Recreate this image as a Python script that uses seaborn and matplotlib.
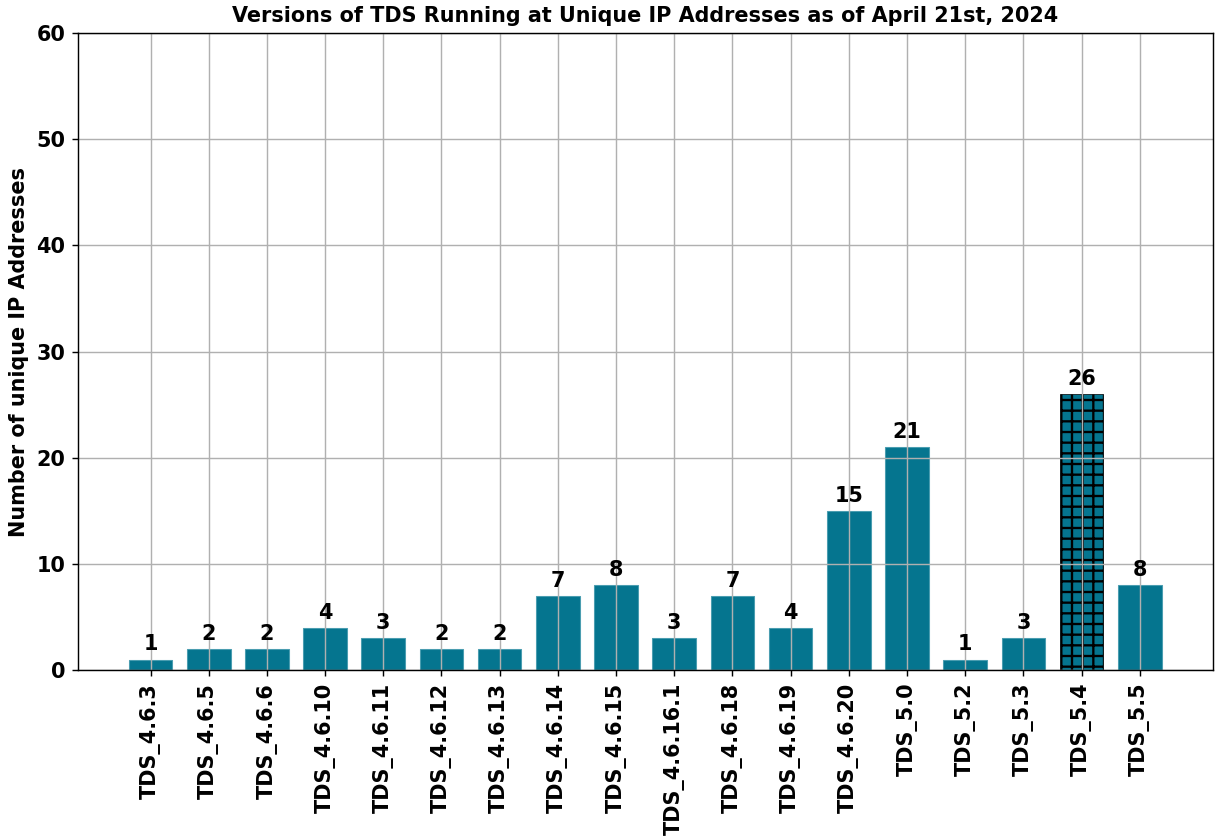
import matplotlib
matplotlib.use("Agg")
import matplotlib.pyplot as plt
import seaborn as sns

# Veriler
versions = ["TDS_4.6.3", "TDS_4.6.5", "TDS_4.6.6", "TDS_4.6.10", "TDS_4.6.11",
            "TDS_4.6.12", "TDS_4.6.13", "TDS_4.6.14", "TDS_4.6.15", "TDS_4.6.16.1",
            "TDS_4.6.18", "TDS_4.6.19", "TDS_4.6.20", "TDS_5.0", "TDS_5.2",
            "TDS_5.3", "TDS_5.4", "TDS_5.5"]
counts = [1, 2, 2, 4, 3, 2, 2, 7, 8, 3, 7, 4, 15, 21, 1, 3, 26, 8]
highlight = "TDS_5.4"

bar_color = "#05758f"

# dpi 128 -> 1215x840 piksel, tarama araligi referansa yakin
DPI = 128
fs = 11.7

plt.rcParams["hatch.linewidth"] = 1.3

fig = plt.figure(figsize=(1215 / DPI, 840 / DPI), dpi=DPI)
ax = fig.add_axes([0.064, 0.202, 0.934, 0.759])

sns.barplot(x=versions, y=counts, color=bar_color, saturation=1, width=0.75,
            edgecolor="#4a9db0", linewidth=0.6, ax=ax)

# En yuksek surumu tarali goster
for patch, name in zip(ax.patches, versions):
    if name == highlight:
        patch.set_hatch("++")
        patch.set_edgecolor("black")
        patch.set_linewidth(0.4)

for i, v in enumerate(counts):
    ax.text(i, v + 0.5, str(v), ha="center", va="bottom",
            fontsize=fs, fontweight="bold")

ax.set_xlim(-1.25, 18.25)
ax.set_ylim(0, 60)
ax.set_axisbelow(False)
ax.grid(True, color="#b0b0b0", linewidth=0.8)
for sp in ax.spines.values():
    sp.set_zorder(3)
ax.set_title("Versions of TDS Running at Unique IP Addresses as of April 21st, 2024",
             fontsize=fs, fontweight="bold")
ax.set_ylabel("Number of unique IP Addresses", fontsize=fs, fontweight="bold")
ax.tick_params(axis="x", labelrotation=90, labelsize=fs)
ax.tick_params(axis="y", labelsize=fs)
for lbl in ax.get_xticklabels() + ax.get_yticklabels():
    lbl.set_fontweight("bold")

fig.savefig("out.png", dpi=DPI)
